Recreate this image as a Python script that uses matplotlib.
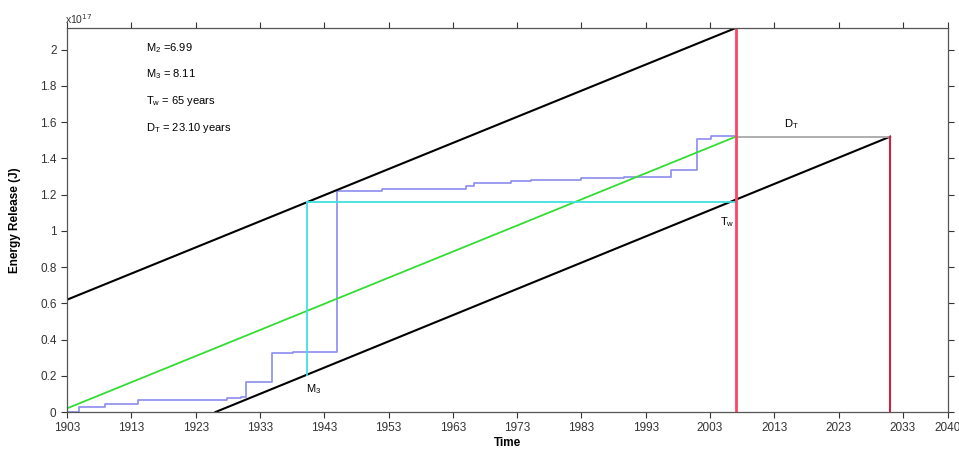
import numpy as np
import matplotlib
matplotlib.use("Agg")
import matplotlib.pyplot as plt

plt.rcParams['font.family'] = ['Liberation Sans', 'DejaVu Sans']

# cumulative energy release step curve (units of 1e17 J)
step_years = [1903, 1904.8, 1908.9, 1914.0, 1927.9, 1930.0, 1930.9, 1934.9, 1938.2,
              1945.0, 1952.0, 1965.0, 1966.3, 1972.0, 1975.1, 1982.9, 1989.6,
              1996.9, 2001.0, 2003.2, 2007.0]
step_energy = [0.0, 0.028, 0.046, 0.064, 0.078, 0.085, 0.167, 0.324, 0.33,
               1.221, 1.230, 1.245, 1.264, 1.278, 1.282, 1.291, 1.300,
               1.337, 1.508, 1.525, 1.525]

# straight lines (year, energy)
upper_x = [1903, 2007]
upper_y = [0.62, 2.12]
green_x = [1903, 2007]
green_y = [0.02, 1.52]
lower_x = [1926.1, 2031]
lower_y = [0.0, 1.52]

# Tw / M3 construction
cyan_vx = [1940.3, 1940.3]
cyan_vy = [0.205, 1.16]
cyan_hx = [1940.3, 2007]
cyan_hy = [1.16, 1.16]
dt_x = [2007, 2031]
dt_y = [1.52, 1.52]
red1_x, red1_top = 2007, 2.12
red2_x, red2_top = 2031, 1.52

xticks = [1903, 1913, 1923, 1933, 1943, 1953, 1963, 1973, 1983, 1993, 2003, 2013, 2023, 2033, 2040]
yticks = [0, 0.2, 0.4, 0.6, 0.8, 1, 1.2, 1.4, 1.6, 1.8, 2]

fig = plt.figure(figsize=(9.59, 4.55), dpi=100)
ax = fig.add_axes([0.0699, 0.0945, 0.9186, 0.844])

ax.step(step_years, step_energy, where='post', color='#8c8cf0', lw=1.2)
ax.plot(green_x, green_y, color='#33dd33', lw=1.3)
ax.plot(upper_x, upper_y, color='black', lw=1.5)
ax.plot(lower_x, lower_y, color='black', lw=1.5)
ax.plot(cyan_vx, cyan_vy, color='#40e0e0', lw=1.3)
ax.plot(cyan_hx, cyan_hy, color='#40e0e0', lw=1.3)
ax.plot(dt_x, dt_y, color='#a8a8a8', lw=1.3)
ax.plot([red1_x, red1_x], [0, red1_top], color='#ff4466', lw=2)
ax.plot([red2_x, red2_x], [0, red2_top], color='#cc2244', lw=1.5)

ax.set_xlim(1903, 2040)
ax.set_ylim(0, 2.12)
ax.set_xticks(xticks)
ax.set_yticks(yticks)
ax.set_yticklabels([f"{v:g}" for v in yticks])
ax.tick_params(direction='out', length=4, width=0.8, colors='#333333',
               labelsize=8.5, top=True, right=True, labeltop=False, labelright=False)
for sp in ax.spines.values():
    sp.set_color('#555555')
    sp.set_linewidth(0.9)

ax.set_xlabel('Time', fontsize=8.5, fontweight='bold', labelpad=2)
ax.set_ylabel('Energy Release (J)', fontsize=8.5, fontweight='bold', labelpad=14)
ax.text(-0.002, 1.01, r'x10$^{17}$', transform=ax.transAxes, fontsize=7.5, color='#333333')

tx = 1915.3
ax.text(tx, 1.99, r'M$_\mathregular{2}$ =6.99', fontsize=8)
ax.text(tx, 1.85, r'M$_\mathregular{3}$ = 8.11', fontsize=8)
ax.text(tx, 1.70, r'T$_\mathregular{w}$ = 65 years', fontsize=8)
ax.text(tx, 1.55, r'D$_\mathregular{T}$ = 23.10 years', fontsize=8)
ax.text(1940.2, 0.11, r'M$_\mathregular{3}$', fontsize=8)
ax.text(2004.5, 1.03, r'T$_\mathregular{w}$', fontsize=8)
ax.text(2014.5, 1.57, r'D$_\mathregular{T}$', fontsize=8)

fig.savefig('out.png', dpi=100)
